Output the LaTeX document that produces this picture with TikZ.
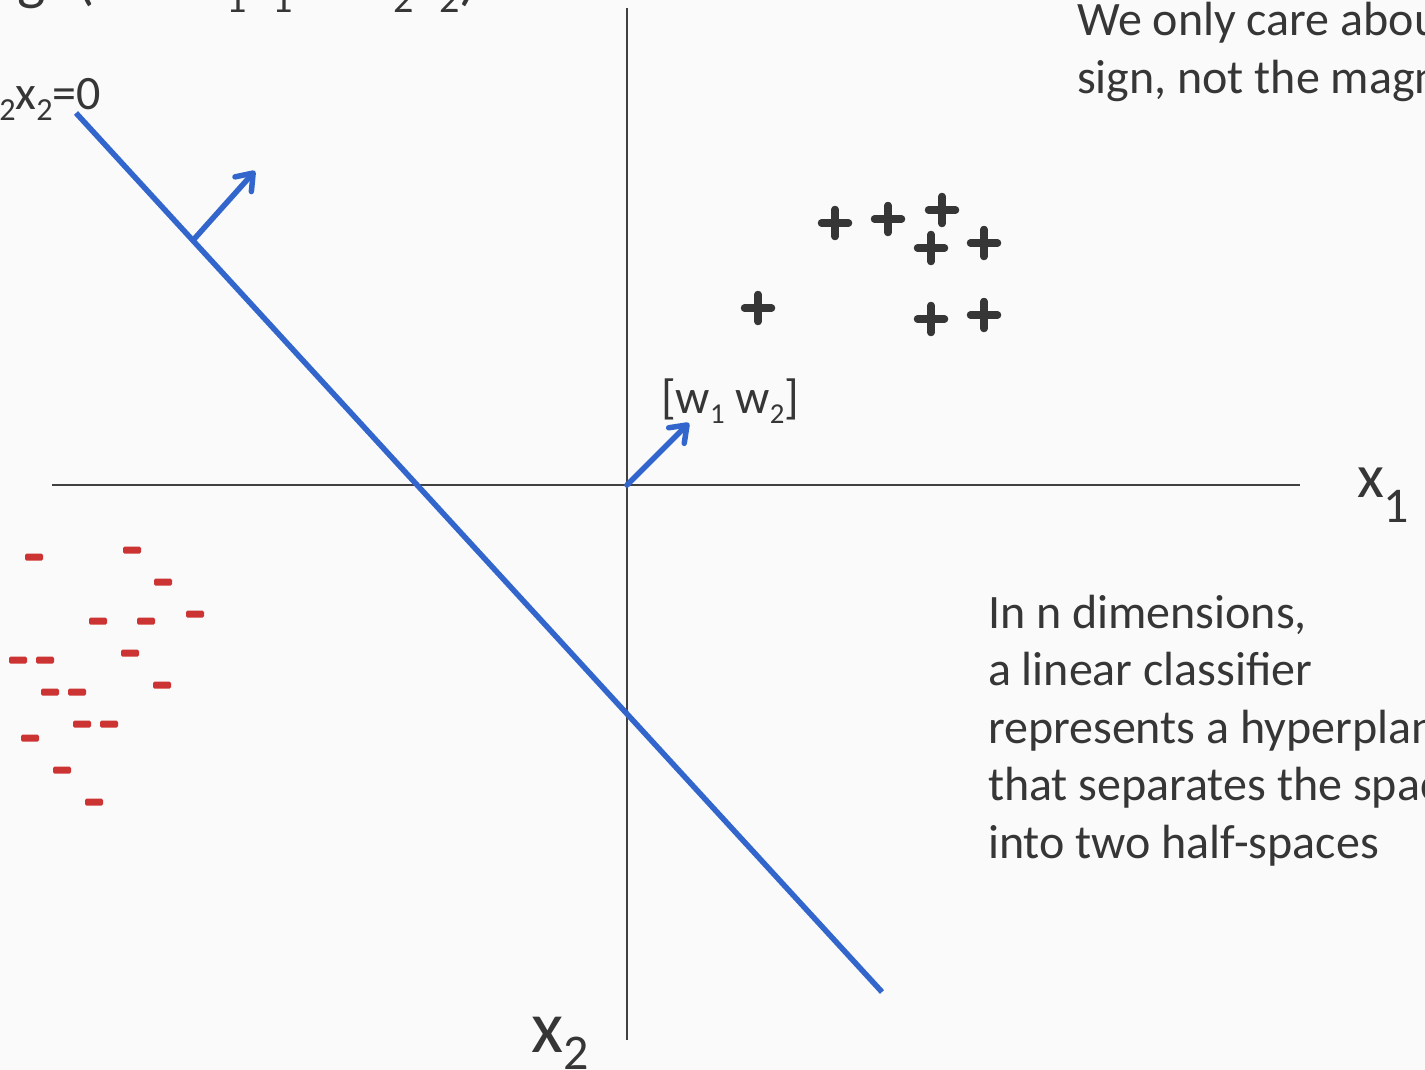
\documentclass[tikz,border=0pt]{standalone}
\usepackage{fontspec}
\setmainfont{Carlito}
\usetikzlibrary{arrows.meta,calc}
\definecolor{bg}{HTML}{FAFAFA}
\definecolor{txt}{HTML}{363636}
\definecolor{blu}{HTML}{3366CC}
\definecolor{rd}{HTML}{CC3333}
\definecolor{axc}{HTML}{404040}
\newcommand{\lo}[2][0.67]{\raisebox{-0.22em}{\scalebox{#1}{#2}}}
\tikzset{
  body/.style={font=\fontsize{48}{57.6}\selectfont, text=txt, inner sep=0pt, outer sep=0pt},
  axis/.style={draw=axc, line width=2pt},
  sepline/.style={draw=blu, line width=5.5pt},
  warrow/.style={draw=blu, line width=5.5pt, line cap=round,
    -{Straight Barb[length=15pt,width=22pt,line cap=round,round]}},
  plusmark/.style={draw=txt, line width=7.5pt, line cap=round},
  minusmark/.style={fill=rd, rounded corners=1.5pt},
}
\begin{document}
\begin{tikzpicture}[x=1pt,y=-1pt]
\useasboundingbox (0,0) rectangle (1425,1070);
\fill[bg] (0,0) rectangle (1425,1070);
\clip (0,0) rectangle (1425,1070);

% axes
\coordinate (xl) at (52,485);
\coordinate (xr) at (1300,485);
\coordinate (yt) at (627,8);
\coordinate (yb) at (627,1040);
\coordinate (O) at (627,485);
\draw[axis] (xl) -- (xr);
\draw[axis] (yt) -- (yb);

% separating line
\coordinate (L1) at (76,113);
\coordinate (L2) at (882,992);
\draw[sepline] (L1) -- (L2);

% normal arrows
\coordinate (A) at ($(L1)!0.145!(L2)$);
\coordinate (Atip) at (255,171);
\draw[warrow] (A) -- (Atip);
\coordinate (Wtip) at (689,423);
\draw[warrow] (O) -- (Wtip);

% labels
\node[body, anchor=base west] (wlab) at (661,413) {[w\lo[0.6]{1} w\lo[0.6]{2}]};
\node[body, anchor=base west, font=\fontsize{62}{62}\selectfont] (x1lab) at (1357,497)
  {x\raisebox{-25pt}{\fontsize{50}{50}\selectfont 1}};
\node[body, anchor=base west, font=\fontsize{74}{74}\selectfont] (x2lab) at (531,1052)
  {x\raisebox{-17pt}{\fontsize{50}{50}\selectfont 2}};
\node[body, anchor=base east] (eqlab) at (101,110)
  {b+w\lo{1}x\lo{1}+w\lo{2}x\lo{2}=0};
\node[body, anchor=base west, font=\fontsize{60}{72}\selectfont] (title) at (-20,-1)
  {sign(b + w\lo{1}x\lo{1} + w\lo{2}x\lo{2})};

% top right note
\node[body, anchor=base west] (n1) at (1077,36) {We only care about the};
\node[body, anchor=base west] (n2) at (1077,93.5) {sign, not the magnitude};

% bottom right note
\node[body, anchor=base west] (t1) at (988,628) {In n dimensions,};
\node[body, anchor=base west] (t2) at (988,685.5) {a linear classifier};
\node[body, anchor=base west] (t3) at (988,743) {represents a hyperplane};
\node[body, anchor=base west] (t4) at (988,800.5) {that separates the space};
\node[body, anchor=base west] (t5) at (988,858) {into two half-spaces};

% positive examples
\foreach \px/\py in {835/223, 888/219, 942/210, 931/248, 984/243, 758/308, 931/319, 984/315}
  \draw[plusmark] (\px-13.5,\py) -- (\px+13.5,\py) (\px,\py-13.5) -- (\px,\py+13.5);

% negative examples
\foreach \mx/\my in {34/557, 132/550, 163/582, 195/614, 98/621, 146/621, 130/653,
  18/660, 45/660, 162/685, 50/692, 77/692, 82/724, 109/724, 30/738, 62/770, 94/802}
  \fill[minusmark] (\mx-9,\my-3.5) rectangle (\mx+9,\my+3.5);
\end{tikzpicture}
\end{document}
